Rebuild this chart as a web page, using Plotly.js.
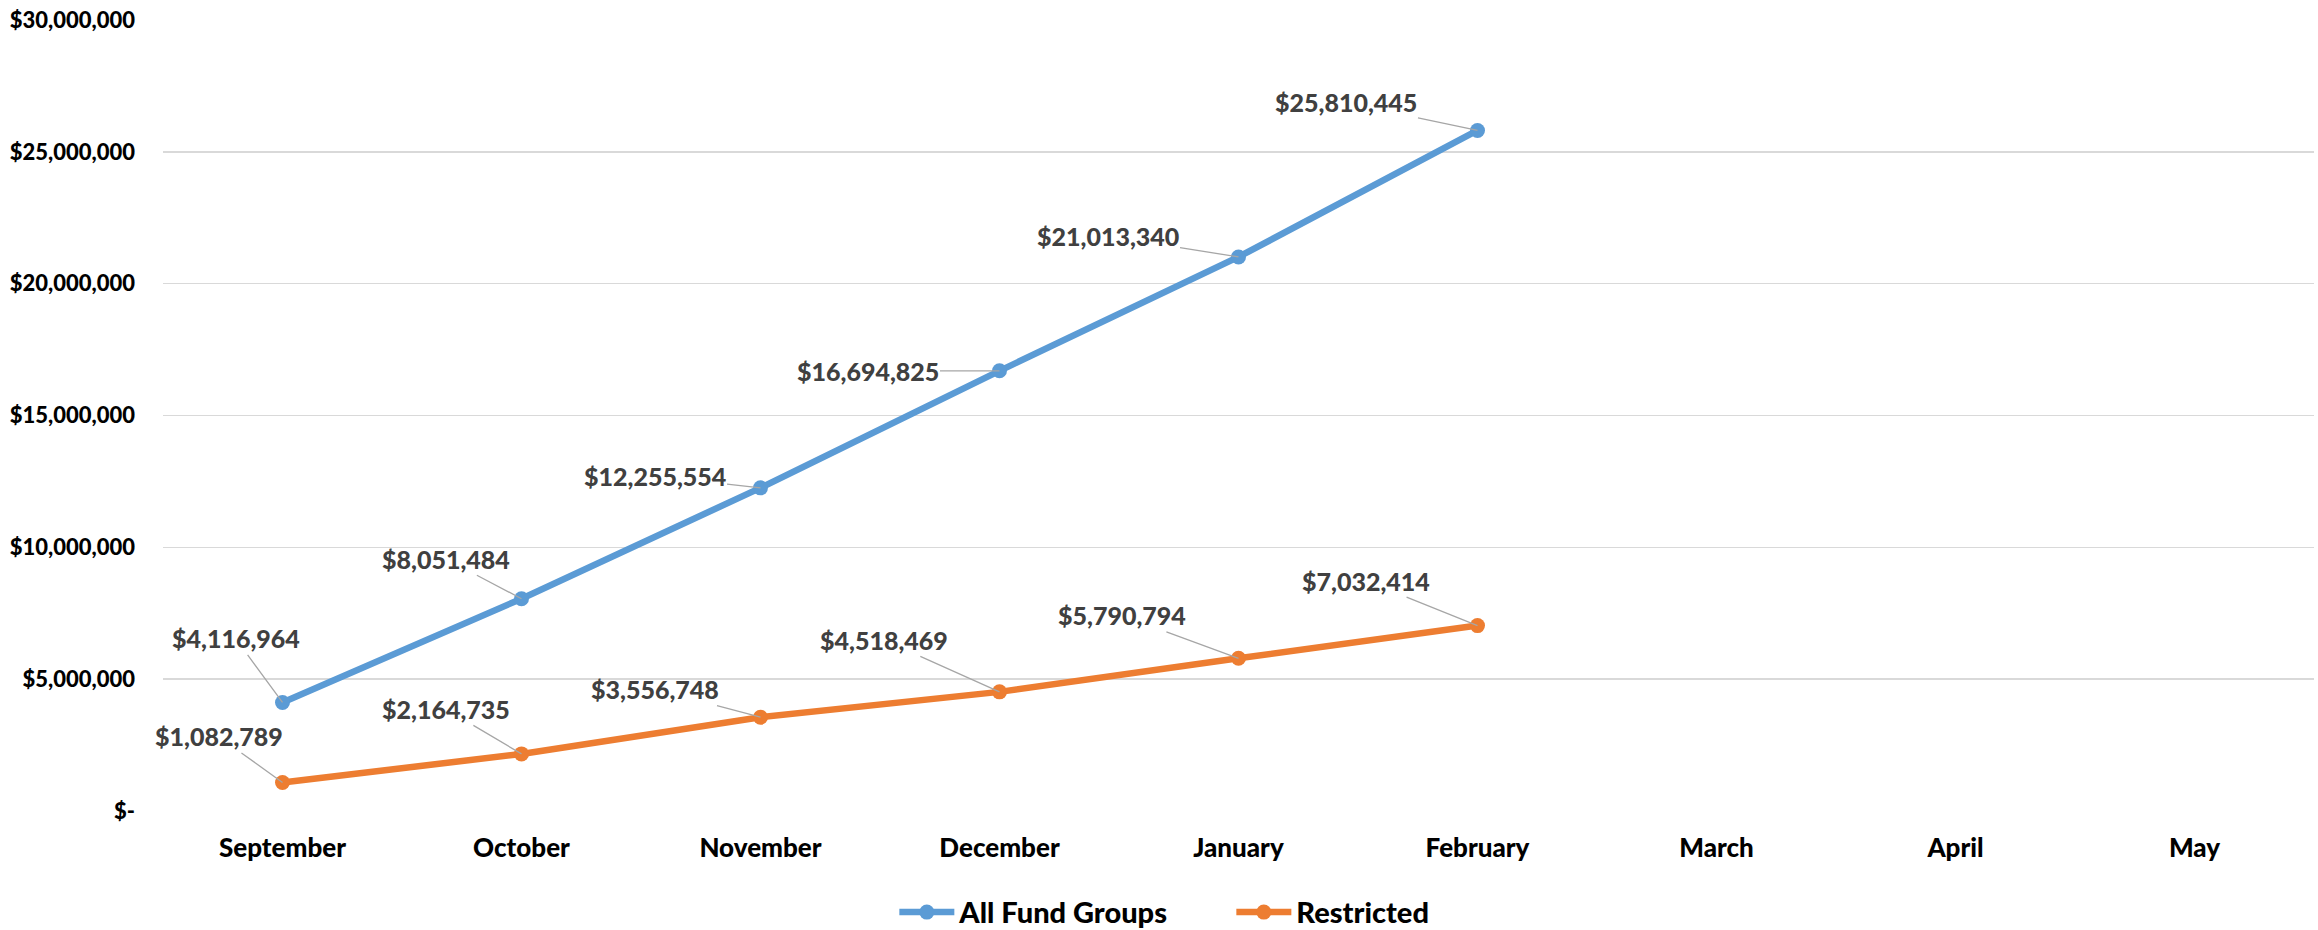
<!DOCTYPE html>
<html>
<head>
<meta charset="utf-8">
<script src="https://cdn.plot.ly/plotly-3.0.1.min.js"></script>
<style>html,body{margin:0;padding:0;background:#fff;}#chart{width:2318px;height:930px;}</style>
</head>
<body>
<div id="chart"></div>
<script>
var months = ["September","October","November","December","January","February","March","April","May"];
var dataMonths = ["September","October","November","December","January","February"];
var allFundGroups = [4116964, 8051484, 12255554, 16694825, 21013340, 25810445];
var restricted = [1082789, 2164735, 3556748, 4518469, 5790794, 7032414];
var yTickVals = [0, 5000000, 10000000, 15000000, 20000000, 25000000, 30000000];
var yTickText = ["$-", "$5,000,000", "$10,000,000", "$15,000,000", "$20,000,000", "$25,000,000", "$30,000,000"];

// label offsets (pixels) relative to each point
var allOffsets = [[-47,-64],[-76,-40],[-106,-12],[-132,0],[-131,-21],[-132,-28]];
var resOffsets = [[-64,-46],[-76,-45],[-106,-28],[-116,-52],[-117,-43],[-112,-45]];

var FONT = "Lato, 'Open Sans', sans-serif";
var BLUE = "#5B9BD5", ORANGE = "#ED7D31";

function fmt(v){ return "$" + v.toLocaleString("en-US"); }

var traces = [
  {x: dataMonths, y: allFundGroups, name: "All Fund Groups", type: "scatter", mode: "lines+markers",
   line: {color: BLUE, width: 6.5}, marker: {color: BLUE, size: 15}},
  {x: dataMonths, y: restricted, name: "Restricted", type: "scatter", mode: "lines+markers",
   line: {color: ORANGE, width: 6.5}, marker: {color: ORANGE, size: 15}}
];

var annotations = [];
function addLabels(xs, ys, offs){
  for (var i = 0; i < xs.length; i++){
    annotations.push({x: xs[i], y: ys[i], xref: "x", yref: "y", text: fmt(ys[i]),
      showarrow: true, arrowhead: 0, arrowwidth: 1.3, arrowcolor: "#A6A6A6",
      ax: offs[i][0], ay: offs[i][1], standoff: 0, startstandoff: 0,
      font: {family: FONT, size: 25, color: "#404040", weight: 900}});
  }
}
addLabels(dataMonths, allFundGroups, allOffsets);
addLabels(dataMonths, restricted, resOffsets);

var layout = {
  width: 2318, height: 930,
  margin: {l: 163, r: 4, t: 20, b: 119, autoexpand: false},
  paper_bgcolor: "#fff", plot_bgcolor: "#fff",
  showlegend: true,
  legend: {orientation: "h", x: 0.340, xanchor: "left", y: -0.128, yanchor: "middle",
    itemwidth: 55, entrywidth: 267,
    font: {family: FONT, size: 29, color: "#000", weight: 900}, tracegroupgap: 0},
  xaxis: {type: "category", categoryorder: "array", categoryarray: months, tickvals: months,
    range: [-0.5, 8.5], showgrid: false, zeroline: false, showline: false, ticks: "",
    ticklabelstandoff: 19,
    tickfont: {family: FONT, size: 26, color: "#000", weight: 900}},
  yaxis: {range: [0, 30000000], tickvals: yTickVals, ticktext: yTickText,
    showgrid: true, gridcolor: "#D9D9D9", gridwidth: 1.5, zeroline: false, showline: false, ticks: "",
    ticklabelstandoff: 27,
    tickfont: {family: FONT, size: 22, color: "#000", weight: 900}},
  annotations: annotations
};

Plotly.newPlot("chart", traces, layout, {displayModeBar: false, staticPlot: true});
</script>
</body>
</html>
